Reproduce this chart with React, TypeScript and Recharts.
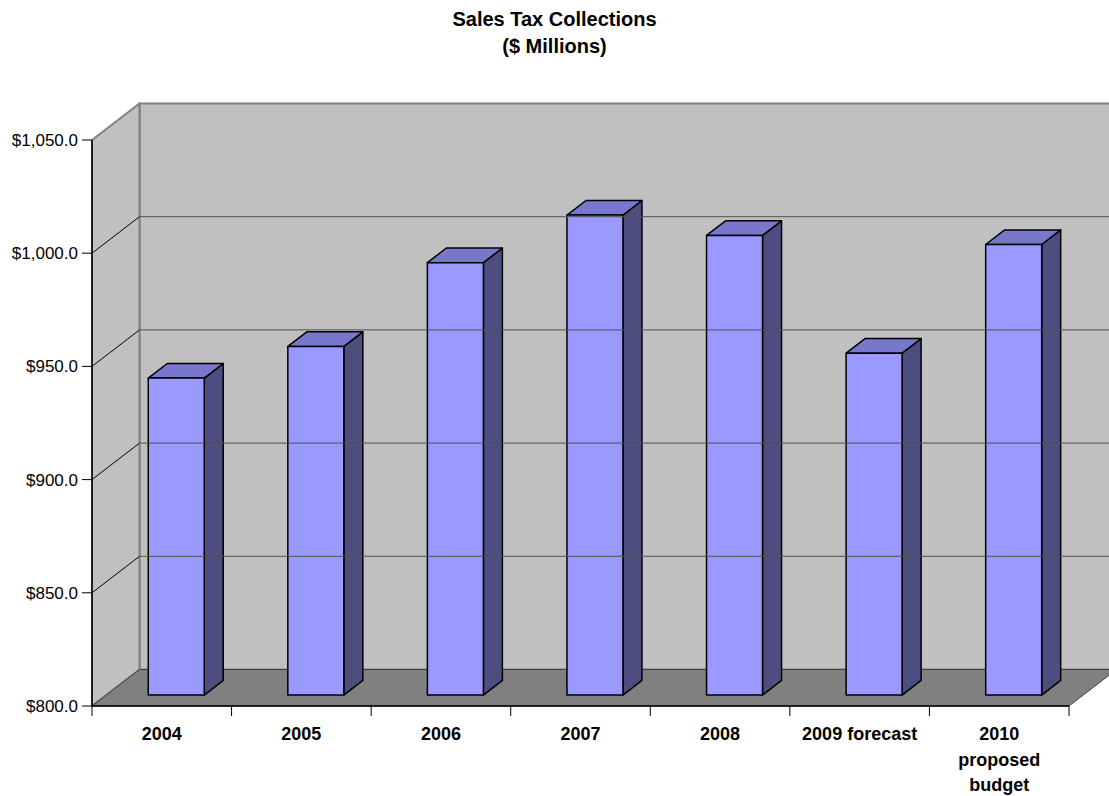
import { BarChart, Bar, XAxis, YAxis, ReferenceArea, ReferenceLine } from 'recharts';

// Sales tax collections, $ millions
const categories = ['2004', '2005', '2006', '2007', '2008', '2009 forecast', '2010\nproposed\nbudget'];
const collections = [940, 954, 991, 1012, 1003, 951, 999];
const yTicks = [800, 850, 900, 950, 1000, 1050];
const gridValues = [850, 900, 950, 1000];

const data = categories.map((category, i) => ({ category, value: collections[i] }));

// 3D look: offset of the back wall from the front plane
const DEPTH_X = 47.5;
const DEPTH_Y = -36.5;
const BAR_FRONT = 0.3; // bar front face sits 30% into the depth
const BAR_DEPTH = 0.4;

const formatMoney = (v: number) =>
  '$' + v.toLocaleString('en-US', { minimumFractionDigits: 1, maximumFractionDigits: 1 });

function Walls(props: any) {
  const { x, y, width, height } = props;
  const b = y + height;
  return (
    <g>
      {/* back wall */}
      <polygon
        points={`${x + DEPTH_X},${y + DEPTH_Y} ${x + width + DEPTH_X},${y + DEPTH_Y} ${x + width + DEPTH_X},${b + DEPTH_Y} ${x + DEPTH_X},${b + DEPTH_Y}`}
        fill="#C0C0C0"
        stroke="#808080"
        strokeWidth={2}
      />
      {/* left wall */}
      <polygon
        points={`${x},${y} ${x + DEPTH_X},${y + DEPTH_Y} ${x + DEPTH_X},${b + DEPTH_Y} ${x},${b}`}
        fill="#C0C0C0"
        stroke="#808080"
        strokeWidth={2}
      />
      {/* floor */}
      <polygon
        points={`${x},${b} ${x + width},${b} ${x + width + DEPTH_X},${b + DEPTH_Y} ${x + DEPTH_X},${b + DEPTH_Y}`}
        fill="#808080"
        stroke="#404040"
        strokeWidth={1}
      />
    </g>
  );
}

function GridLine3D(props: any) {
  const { x1, y1, x2, y2 } = props;
  return (
    <g>
      <line x1={x1} y1={y1} x2={x1 + DEPTH_X} y2={y1 + DEPTH_Y} stroke="#000" strokeWidth={1} />
      <line x1={x1 + DEPTH_X} y1={y1 + DEPTH_Y} x2={x2 + DEPTH_X} y2={y2 + DEPTH_Y} stroke="#505050" strokeWidth={1} />
    </g>
  );
}

function Bar3D(props: any) {
  const { x, y, width, height } = props;
  if (width == null || height == null) return null;
  const fx = x + DEPTH_X * BAR_FRONT;
  const fy = y + DEPTH_Y * BAR_FRONT;
  const dx = DEPTH_X * BAR_DEPTH;
  const dy = DEPTH_Y * BAR_DEPTH;
  const r = fx + width;
  const b = fy + height;
  return (
    <g stroke="#000" strokeWidth={1.5} strokeLinejoin="round">
      <polygon points={`${r},${fy} ${r + dx},${fy + dy} ${r + dx},${b + dy} ${r},${b}`} fill="#4D4D80" />
      <polygon points={`${fx},${fy} ${fx + dx},${fy + dy} ${r + dx},${fy + dy} ${r},${fy}`} fill="#7777CC" />
      <rect x={fx} y={fy} width={width} height={height} fill="#9999FF" />
    </g>
  );
}

function CategoryTick(props: any) {
  const { x, y, payload, index, width, visibleTicksCount } = props;
  const band = width && visibleTicksCount ? width / visibleTicksCount : 139.6;
  const lines = String(payload.value).split('\n');
  return (
    <g>
      <line x1={x - band / 2} y1={y} x2={x - band / 2} y2={y + 10} stroke="#000" />
      {index === visibleTicksCount - 1 && (
        <line x1={x + band / 2} y1={y} x2={x + band / 2} y2={y + 10} stroke="#000" />
      )}
      {lines.map((line, i) => (
        <text
          key={i}
          x={x}
          y={y + 34 + i * 25.5}
          textAnchor="middle"
          fontFamily="Arial, 'Liberation Sans', sans-serif"
          fontSize={18}
          fontWeight="bold"
          fill="#000"
        >
          {line}
        </text>
      ))}
    </g>
  );
}

export default function App() {
  return (
    <div style={{ position: 'relative', width: 1109, height: 796, background: '#fff', fontFamily: "Arial, 'Liberation Sans', sans-serif" }}>
      <style>{'body{margin:0}'}</style>
      <div
        style={{
          position: 'absolute',
          left: 0,
          top: 6,
          width: 1109,
          textAlign: 'center',
          fontWeight: 'bold',
          fontSize: 20,
          lineHeight: '27px',
          color: '#000',
        }}
      >
        Sales Tax Collections
        <br />
        ($ Millions)
      </div>
      <BarChart
        width={1109}
        height={796}
        data={data}
        margin={{ top: 140, right: 40, left: 0, bottom: 60 }}
        barSize={56}
        style={{ position: 'absolute', left: 0, top: 0 }}
      >
        <ReferenceArea y1={800} y2={1050} shape={<Walls />} ifOverflow="visible" />
        {gridValues.map((v) => (
          <ReferenceLine key={v} y={v} shape={<GridLine3D />} ifOverflow="visible" />
        ))}
        <XAxis
          dataKey="category"
          interval={0}
          height={30}
          tickLine={false}
          tickSize={0}
          tickMargin={0}
          axisLine={{ stroke: '#000', strokeWidth: 1.5 }}
          tick={<CategoryTick />}
        />
        <YAxis
          width={92}
          domain={[800, 1050]}
          ticks={yTicks}
          allowDataOverflow
          tickFormatter={formatMoney}
          tickSize={10}
          tickMargin={4}
          axisLine={{ stroke: '#000', strokeWidth: 1.5 }}
          tickLine={{ stroke: '#000' }}
          tick={{ fill: '#000', fontSize: 17, fontFamily: "Arial, 'Liberation Sans', sans-serif" }}
        />
        <Bar dataKey="value" shape={<Bar3D />} isAnimationActive={false} />
      </BarChart>
    </div>
  );
}
